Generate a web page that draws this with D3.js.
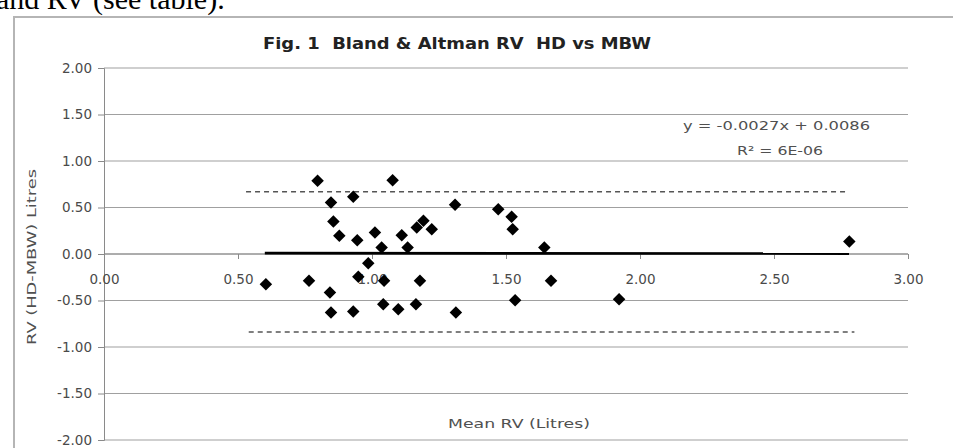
<!DOCTYPE html>
<html><head><meta charset="utf-8">
<script src="https://cdn.jsdelivr.net/npm/d3@7"></script>
<style>
html,body{margin:0;padding:0;background:#fff;overflow:hidden;}
svg{display:block;}
</style></head>
<body>
<svg id="c" width="953" height="448"></svg>
<script>
// ---- data ----
const title = "Fig. 1  Bland & Altman RV  HD vs MBW";
const xTitle = "Mean RV (Litres)";
const yTitle = "RV (HD-MBW) Litres";
const xTicks = [0, 0.5, 1.0, 1.5, 2.0, 2.5, 3.0];
const yTicks = [2.0, 1.5, 1.0, 0.5, 0.0, -0.5, -1.0, -1.5, -2.0];
const meanRV = [0.797,0.930,0.847,0.856,0.878,0.945,1.011,0.986,0.949,0.604,0.765,0.843,0.847,0.930,
  1.077,1.036,1.111,1.133,1.167,1.192,1.223,1.310,1.471,1.521,1.525,1.045,1.179,1.042,1.098,1.164,1.313,1.534,
  1.643,1.668,1.922,2.781];
const diffRV = [0.787,0.615,0.554,0.349,0.196,0.148,0.231,-0.099,-0.245,-0.325,-0.288,-0.414,-0.629,-0.618,
  0.794,0.070,0.202,0.070,0.285,0.357,0.267,0.529,0.482,0.400,0.267,-0.288,-0.288,-0.540,-0.594,-0.540,-0.629,-0.497,
  0.070,-0.288,-0.486,0.134];
const trendX = [0.60, 2.78];
const trendY = [0.009, 0.004];
const upperLoAX = [0.53, 2.77];
const upperLoAY = [0.67, 0.67];
const lowerLoAX = [0.54, 2.80];
const lowerLoAY = [-0.84, -0.84];
const eqText = "y = -0.0027x + 0.0086";
const r2Text = "R² = 6E-06";
const docText = "and RV (see table).";

// ---- drawing ----
const svg = d3.select("#c");
const font = "'DejaVu Sans', sans-serif";
const x = d3.scaleLinear().domain([0, 3]).range([104, 908]);
const y = d3.scaleLinear().domain([-2, 2]).range([440, 68]);
const fmt = d => d.toFixed(2);

// document text above the chart (cut by the page top, as in the reference)
svg.append("text").attr("x", -4).attr("y", 9).attr("font-family", "'Liberation Serif', serif")
  .attr("font-size", 30).attr("fill", "#000").text(docText);

// chart frame
svg.append("rect").attr("x", 14).attr("y", 17).attr("width", 1000).attr("height", 500)
  .attr("fill", "none").attr("stroke", "#b5b5b5").attr("stroke-width", 2);

// gridlines
svg.append("g").selectAll("line").data(yTicks).join("line")
  .attr("x1", x(0)).attr("x2", x(3)).attr("y1", d => y(d)).attr("y2", d => y(d))
  .attr("stroke", "#a0a0a0").attr("stroke-width", 1.2);

// y axis
const yAxis = svg.append("g").attr("transform", `translate(${x(0)},0)`)
  .call(d3.axisLeft(y).tickValues(yTicks).tickFormat(fmt).tickSize(6).tickPadding(6));
yAxis.select(".domain").attr("stroke", "#8a8a8a");
yAxis.selectAll(".tick line").attr("stroke", "#8a8a8a");
yAxis.selectAll("text").attr("font-family", font).attr("font-size", 13.5).attr("fill", "#4a4a4a");

// x axis at y = 0
const xAxis = svg.append("g").attr("transform", `translate(0,${y(0)})`)
  .call(d3.axisBottom(x).tickValues(xTicks).tickFormat(fmt).tickSize(5).tickPadding(15));
xAxis.select(".domain").attr("stroke", "#8a8a8a").attr("d", `M${x(0)},0H${x(3)}`);
xAxis.selectAll(".tick line").attr("stroke", "#8a8a8a");
xAxis.selectAll("text").attr("font-family", font).attr("font-size", 13.5).attr("fill", "#4a4a4a");

// limits of agreement (dashed)
const line = d3.line().x(d => x(d[0])).y(d => y(d[1]));
svg.append("path").datum(d3.zip(upperLoAX, upperLoAY)).attr("d", line)
  .attr("stroke", "#555").attr("stroke-width", 1.5).attr("stroke-dasharray", "5,4").attr("fill", "none");
svg.append("path").datum(d3.zip(lowerLoAX, lowerLoAY)).attr("d", line)
  .attr("stroke", "#555").attr("stroke-width", 1.5).attr("stroke-dasharray", "5,4").attr("fill", "none");

// trend line
svg.append("path").datum(d3.zip(trendX, trendY)).attr("d", line)
  .attr("stroke", "#000").attr("stroke-width", 2.6).attr("fill", "none");

// points
const diamond = d3.symbol().type(d3.symbolDiamond2).size(100);
svg.append("g").selectAll("path").data(d3.zip(meanRV, diffRV)).join("path")
  .attr("transform", d => `translate(${x(d[0])},${y(d[1])})`)
  .attr("d", diamond).attr("fill", "#000");

// title
svg.append("text").attr("x", 457).attr("y", 49).attr("text-anchor", "middle")
  .attr("font-family", font).attr("font-weight", "bold").attr("font-size", 16).attr("fill", "#222")
  .attr("textLength", 388).attr("lengthAdjust", "spacingAndGlyphs")
  .attr("xml:space", "preserve").style("white-space", "pre").text(title);

// equation
svg.append("text").attr("x", 683).attr("y", 130)
  .attr("font-family", font).attr("font-size", 13).attr("fill", "#505050")
  .attr("textLength", 187).attr("lengthAdjust", "spacingAndGlyphs").text(eqText);
svg.append("text").attr("x", 737).attr("y", 155)
  .attr("font-family", font).attr("font-size", 13).attr("fill", "#505050")
  .attr("textLength", 86).attr("lengthAdjust", "spacingAndGlyphs").text(r2Text);

// axis titles
svg.append("text").attr("x", 448).attr("y", 428)
  .attr("font-family", font).attr("font-size", 13).attr("fill", "#505050")
  .attr("textLength", 142).attr("lengthAdjust", "spacingAndGlyphs").text(xTitle);
svg.append("text").attr("transform", "translate(36,345) rotate(-90)")
  .attr("font-family", font).attr("font-size", 13).attr("fill", "#505050")
  .attr("textLength", 176).attr("lengthAdjust", "spacingAndGlyphs").text(yTitle);
</script>
</body></html>
